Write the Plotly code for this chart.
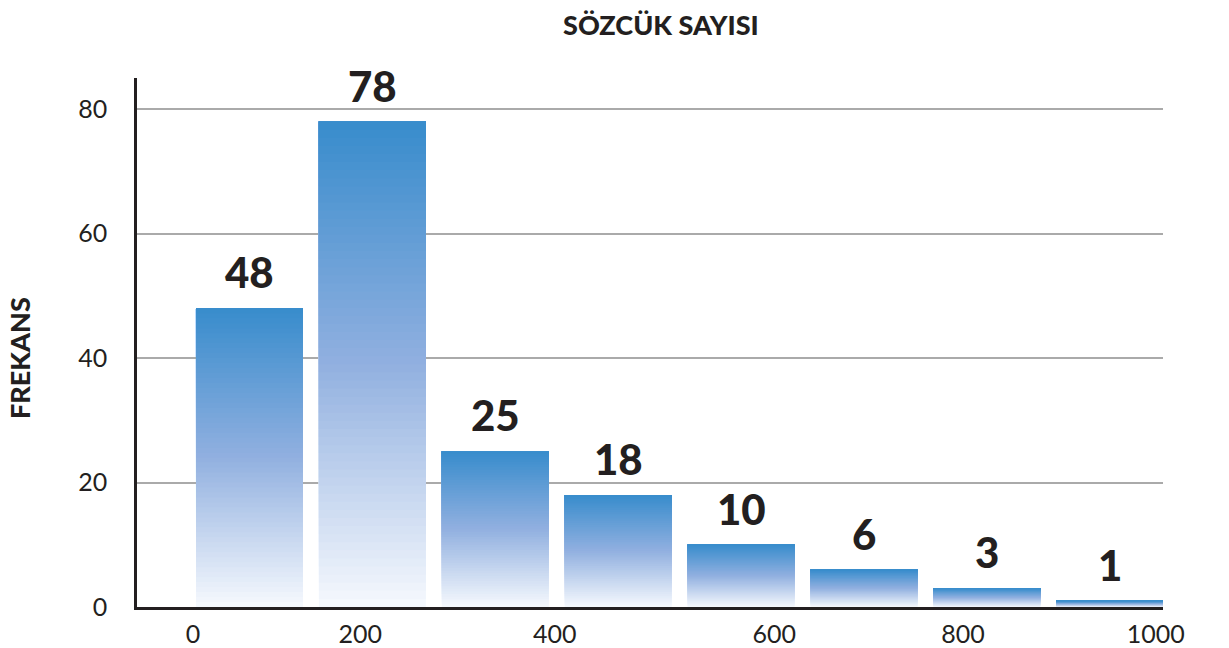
import plotly.graph_objects as go

# Data
bin_starts = [0, 125, 250, 375, 500, 625, 750, 875]
frequencies = [48, 78, 25, 18, 10, 6, 3, 1]
bar_width = 108.8
x_tick_vals = [-3, 167, 365, 588, 780, 976]
x_tick_text = ["0", "200", "400", "600", "800", "1000"]
y_tick_vals = [0, 20, 40, 60, 80]

TEXT = "#231f20"
FONT = "Lato"
BOTTOM = (246, 249, 253)
MID = (145, 176, 224)
TOP = (56, 140, 204)
N_SLICES = 60


def grad_color(t):
    if t < 0.5:
        a, b, u = BOTTOM, MID, t / 0.5
    else:
        a, b, u = MID, TOP, (t - 0.5) / 0.5
    r, g, bl = (round(a[i] + (b[i] - a[i]) * u) for i in range(3))
    return f"rgb({r},{g},{bl})"


centers = [x0 + bar_width / 2 for x0 in bin_starts]

fig = go.Figure()
# gradient bars: overlapping slices, each from its own base up to the bar top
for k in range(N_SLICES):
    frac = k / N_SLICES
    fig.add_trace(go.Bar(
        x=centers,
        base=[v * frac for v in frequencies],
        y=[v * (1 - frac) for v in frequencies],
        width=bar_width,
        marker=dict(color=grad_color((k + 0.5) / N_SLICES), line=dict(width=0)),
        hoverinfo="skip", showlegend=False,
    ))

for c, v in zip(centers, frequencies):
    fig.add_annotation(x=c, y=v, text=str(v), showarrow=False,
                       yanchor="bottom", yshift=9,
                       font=dict(family=FONT, size=42, color=TEXT, weight=900))

fig.add_annotation(xref="paper", yref="paper", x=(661 - 137) / 1026, y=1 + (78 - 25) / 529,
                   text="SÖZCÜK SAYISI", showarrow=False, yanchor="middle",
                   font=dict(family=FONT, size=27, color=TEXT, weight=900))
fig.add_annotation(xref="paper", yref="paper", x=-(137 - 19) / 1026, y=(607 - 358) / 529,
                   text="FREKANS", showarrow=False, textangle=-90,
                   xanchor="center", yanchor="middle",
                   font=dict(family=FONT, size=27, color=TEXT, weight=900))

fig.update_layout(
    width=1229, height=648,
    margin=dict(l=137, r=66, t=78, b=41, autoexpand=False),
    paper_bgcolor="white", plot_bgcolor="white",
    barmode="overlay",
    font=dict(family=FONT, color=TEXT),
)
fig.update_xaxes(range=[-60, 983.5], tickvals=x_tick_vals, ticktext=x_tick_text,
                 automargin=False,
                 showgrid=False, zeroline=False, showline=True, linecolor=TEXT, linewidth=2.5,
                 ticks="", ticklabelstandoff=3, tickfont=dict(size=25, color=TEXT, family=FONT))
fig.update_yaxes(range=[0, 85], tickvals=y_tick_vals, showgrid=True, gridcolor="#aaaaaa",
                 automargin=False,
                 gridwidth=1.5, zeroline=False, showline=True, linecolor=TEXT, linewidth=2.5,
                 ticks="", ticklabelstandoff=22, tickfont=dict(size=25, color=TEXT, family=FONT))

fig.write_html("out.html", config={"displayModeBar": False},
               post_script="document.body.style.margin='0';document.body.style.overflow='hidden';")
